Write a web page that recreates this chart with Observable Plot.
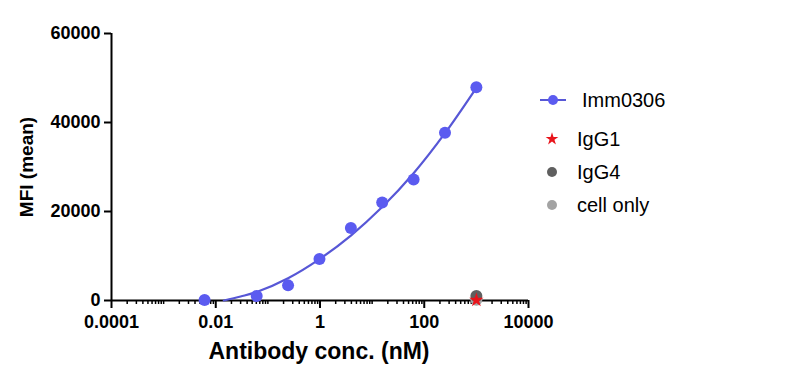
<!DOCTYPE html>
<html>
<head>
<meta charset="utf-8">
<script src="https://cdn.jsdelivr.net/npm/d3@7"></script>
<script src="https://cdn.jsdelivr.net/npm/@observablehq/plot@0.6"></script>
<style>
  html, body { margin: 0; padding: 0; background: #fff; }
  #wrap { position: relative; width: 793px; height: 376px; font-family: "Liberation Sans", Arial, sans-serif; }
  #legend { position: absolute; left: 0; top: 0; }
</style>
</head>
<body>
<div id="wrap"></div>
<script>
// ---- data ----
const conc = [0.0061, 0.061, 0.244, 0.977, 3.91, 15.6, 62.5, 250, 1000];
const imm0306 = [100, 1000, 3400, 9300, 16300, 22000, 27200, 37700, 47900];

// fitted curve
const fitConc = [0.0143, 0.03, 0.061, 0.244, 0.977, 3.91, 15.6, 62.5, 250, 1000];
const fitMFI  = [0, 900, 1900, 5000, 9300, 14600, 21000, 28600, 37600, 47800];

// controls at top concentration
const controlConc = 1000;
const cellOnly = 150;
const igg4 = 1000;
const igg1 = 80;

const xLabelTicks = [0.0001, 0.01, 1, 100, 10000];
const xTickLabels = ["0.0001", "0.01", "1", "100", "10000"];
const yTicks = [0, 20000, 40000, 60000];

const blueLine = "#5757d6";
const blueDot = "#5b5bf0";

const fitData = fitConc.map((c, i) => ({c, v: fitMFI[i]}));
const pts = conc.map((c, i) => ({c, v: imm0306[i]}));

// minor log ticks
const minorTicks = [];
for (let e = -4; e < 4; e++) {
  for (let k = 1; k < 10; k++) {
    const v = k * Math.pow(10, e);
    if (!xLabelTicks.some(t => Math.abs(t - v) / t < 1e-9)) minorTicks.push(v);
  }
}

const chart = Plot.plot({
  width: 793,
  height: 376,
  marginLeft: 111,
  marginRight: 265,
  marginTop: 33,
  marginBottom: 76,
  style: {fontFamily: '"Liberation Sans", Arial, sans-serif', fontSize: "18px", fontWeight: "bold", color: "#000", background: "#fff"},
  x: {type: "log", domain: [0.0001, 10000], axis: null, label: null},
  y: {domain: [0, 60000], axis: null, label: null},
  marks: [
    Plot.axisX({ticks: minorTicks, tickSize: 4, tickFormat: () => "", strokeWidth: 1.5, label: null}),
    Plot.axisX({ticks: xLabelTicks, tickSize: 8, tickPadding: 7, strokeWidth: 2, label: null,
      tickFormat: d => xTickLabels[xLabelTicks.indexOf(d)], fontSize: 18, fontWeight: "bold"}),
    Plot.axisY({ticks: yTicks, tickSize: 7, tickPadding: 4, strokeWidth: 2, label: null,
      tickFormat: d => String(d), fontSize: 18, fontWeight: "bold"}),
    Plot.ruleY([0], {x1: 0.0001, x2: 10000, stroke: "#000", strokeWidth: 2}),
    Plot.ruleX([0.0001], {y1: 0, y2: 60000, stroke: "#000", strokeWidth: 2}),
    Plot.line(fitData, {x: "c", y: "v", stroke: blueLine, strokeWidth: 2.2, curve: "catmull-rom"}),
    Plot.dot(pts, {x: "c", y: "v", r: 6, fill: blueDot}),
    Plot.dot([cellOnly], {x: () => controlConc, y: d => d, r: 6, fill: "#a3a3a3"}),
    Plot.dot([igg4], {x: () => controlConc, y: d => d, r: 6, fill: "#5f5f5f"}),
    Plot.dot([igg1], {x: () => controlConc, y: d => d, r: 4.5, symbol: "star", fill: "#e8141b"}),
    Plot.text(["Antibody conc. (nM)"], {frameAnchor: "bottom", textAnchor: "middle", dy: 58, dx: -1, fontSize: 23, fontWeight: "bold", fill: "#000"}),
    Plot.text(["MFI (mean)"], {frameAnchor: "left", textAnchor: "middle", dx: -85, rotate: -90, fontSize: 19, fontWeight: "bold", fill: "#000"})
  ]
});

const wrap = document.getElementById("wrap");
wrap.appendChild(chart);

// legend
const legendItems = [
  {label: "Imm0306", y: 100, kind: "line"},
  {label: "IgG1", y: 139, kind: "star"},
  {label: "IgG4", y: 172, kind: "dark"},
  {label: "cell only", y: 205, kind: "light"}
];
const ns = "http://www.w3.org/2000/svg";
const lg = document.createElementNS(ns, "svg");
lg.setAttribute("id", "legend");
lg.setAttribute("width", 793);
lg.setAttribute("height", 376);
lg.style.pointerEvents = "none";
const star = d3.symbol(d3.symbolStar, 50)();
for (const it of legendItems) {
  const g = document.createElementNS(ns, "g");
  if (it.kind === "line") {
    g.innerHTML = `<line x1="540" x2="566" y1="${it.y}" y2="${it.y}" stroke="${blueLine}" stroke-width="2"/>` +
      `<circle cx="553" cy="${it.y}" r="5" fill="${blueDot}"/>`;
  } else if (it.kind === "star") {
    g.innerHTML = `<path d="${star}" transform="translate(552,${it.y})" fill="#e8141b"/>`;
  } else {
    g.innerHTML = `<circle cx="552" cy="${it.y}" r="5" fill="${it.kind === "dark" ? "#5f5f5f" : "#a3a3a3"}"/>`;
  }
  const t = document.createElementNS(ns, "text");
  t.setAttribute("x", it.kind === "line" ? 582 : 577);
  t.setAttribute("y", it.y);
  t.setAttribute("dy", "0.35em");
  t.setAttribute("font-size", "20");
  t.setAttribute("font-family", '"Liberation Sans", Arial, sans-serif');
  t.setAttribute("fill", "#000");
  t.textContent = it.label;
  g.appendChild(t);
  lg.appendChild(g);
}
wrap.appendChild(lg);
</script>
</body>
</html>
